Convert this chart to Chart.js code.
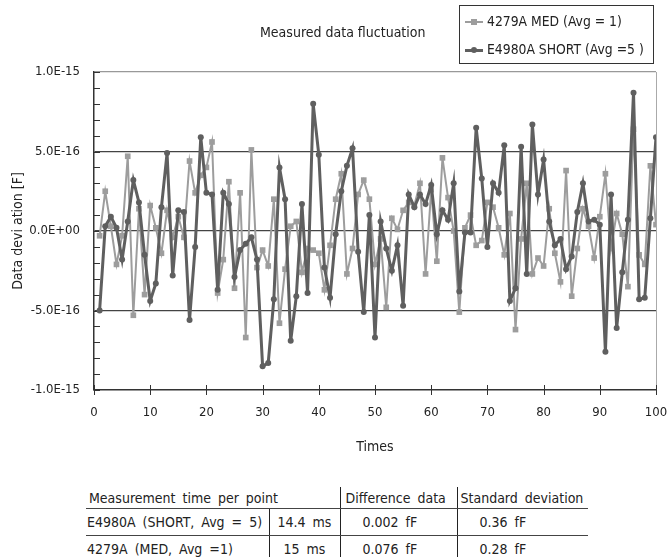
<!DOCTYPE html>
<html>
<head>
<meta charset="utf-8">
<script src="https://cdn.jsdelivr.net/npm/chart.js@4/dist/chart.umd.min.js"></script>
<style>
  body { margin: 0; background: #fff; }
  #wrap { position: relative; width: 670px; height: 557px; overflow: hidden;
          font-family: "DejaVu Sans Condensed", "DejaVu Sans", sans-serif; color: #222; }
  #myChart { position: absolute; left: 0; top: 0; }
  .chart-title { position: absolute; left: 260px; top: 24px; font-size: 14px; white-space: nowrap; }
  .legend { position: absolute; left: 459px; top: 5px; width: 193px; height: 57px; border: 1px solid #333; }
  .legend .row { position: absolute; left: 0; height: 20px; width: 100%; }
  .legend .line { position: absolute; left: 5px; width: 18px; top: 9px; }
  .legend .mark { position: absolute; }
  .legend .txt { position: absolute; left: 27px; top: 1px; font-size: 13.8px; white-space: nowrap; }
  table.info { position: absolute; left: 86px; top: 487px; border-collapse: collapse; table-layout: fixed;
               width: 502px; font-size: 14px; word-spacing: 3px; }
  table.info td { padding: 0; white-space: nowrap; overflow: hidden; }
  table.info tr.head td { height: 21px; border-bottom: 1px solid #444; }
  table.info tr.r1 td { height: 26px; border-bottom: 1px solid #444; }
  table.info tr.r2 td { height: 26px; }
  .c1 { padding-left: 1px !important; }
  .c2 { text-align: center; border-left: 1px solid #222; }
  .c3 { border-left: 1px solid #222; padding-left: 22px !important; }
  .c4 { border-left: 1px solid #222; padding-left: 22px !important; }
  .hd1 { padding-left: 3px !important; }
  .hd3 { padding-left: 5px !important; }
  .hd4 { padding-left: 3px !important; }
</style>
</head>
<body>
<div id="wrap">
  <canvas id="myChart" width="670" height="462"></canvas>
  <div class="chart-title">Measured data fluctuation</div>
  <div class="legend">
    <div class="row" style="top:6px">
      <div class="line" style="height:2px;background:#9d9d9d"></div>
      <div class="mark" style="left:11px;top:7px;width:6px;height:6px;background:#9d9d9d"></div>
      <div class="txt">4279A MED (Avg = 1)</div>
    </div>
    <div class="row" style="top:34px">
      <div class="line" style="height:3px;background:#5f5f5f"></div>
      <div class="mark" style="left:11px;top:7px;width:6px;height:6px;border-radius:50%;background:#5f5f5f"></div>
      <div class="txt">E4980A SHORT (Avg =5 )</div>
    </div>
  </div>
  <table class="info">
    <colgroup>
      <col style="width:183px"><col style="width:71px"><col style="width:117px"><col style="width:131px">
    </colgroup>
    <tr class="head">
      <td class="hd1" colspan="2">Measurement time per point</td>
      <td class="c3 hd3">Difference data</td>
      <td class="c4 hd4">Standard deviation</td>
    </tr>
    <tr class="r1">
      <td class="c1">E4980A (SHORT, Avg = 5)</td>
      <td class="c2">14.4 ms</td>
      <td class="c3">0.002 fF</td>
      <td class="c4">0.36 fF</td>
    </tr>
    <tr class="r2">
      <td class="c1">4279A (MED, Avg =1)</td>
      <td class="c2">15 ms</td>
      <td class="c3">0.076 fF</td>
      <td class="c4">0.28 fF</td>
    </tr>
  </table>
</div>
<script>
// measurement index (Times)
var times = [1, 2, 3, 4, 5, 6, 7, 8, 9, 10, 11, 12, 13, 14, 15, 16, 17, 18, 19, 20,
  21, 22, 23, 24, 25, 26, 27, 28, 29, 30, 31, 32, 33, 34, 35, 36, 37, 38, 39, 40,
  41, 42, 43, 44, 45, 46, 47, 48, 49, 50, 51, 52, 53, 54, 55, 56, 57, 58, 59, 60,
  61, 62, 63, 64, 65, 66, 67, 68, 69, 70, 71, 72, 73, 74, 75, 76, 77, 78, 79, 80,
  81, 82, 83, 84, 85, 86, 87, 88, 89, 90, 91, 92, 93, 94, 95, 96, 97, 98, 99, 100];

// data deviation, in units of 1E-16 F
var medAvg1 = [-0.3, 2.5, 0.3, -2.1, -0.3, 4.7, -5.3, 1.4, -4.0, 1.6,
  0.2, -1.4, 1.3, -0.4, 0.9, -0.4, 4.4, 2.4, 3.5, 4.0,
  5.6, -3.9, -1.8, 3.1, -3.6, 2.4, -6.7, 5.1, -2.3, -1.2,
  -2.2, 2.0, -5.8, -2.4, 0.3, 0.6, -2.6, -1.1, -1.2, -1.4,
  -3.7, -0.9, 2.0, 3.6, -2.7, -1.1, 2.3, 3.2, 2.0, -2.1,
  -0.5, -4.8, 0.8, 0.1, 1.3, 1.8, 1.6, 3.0, -2.7, 2.6,
  -1.9, 4.6, 2.1, 0.0, -5.1, 0.2, 1.0, -0.9, -0.6, 1.8,
  1.5, 0.2, -1.5, 1.1, -6.2, -0.5, 3.0, -2.7, -1.7, -2.2,
  1.4, -1.4, -3.2, 3.8, -4.1, -1.1, 1.4, 0.3, -1.7, 0.9,
  3.6, -1.1, 1.1, -0.2, -3.5, 6.4, -1.5, -2.1, 4.1, 0.4];

var shortAvg5 = [-5.0, 0.3, 0.9, 0.2, -1.8, 0.6, 3.2, 1.8, -1.5, -4.4,
  -3.3, 1.5, 4.9, -2.8, 1.3, 1.2, -5.6, -1.0, 5.9, 2.4,
  2.3, -3.7, 2.4, 1.7, -2.9, -1.2, -0.8, -0.4, -1.8, -8.5,
  -8.3, -4.3, 4.0, 2.0, -6.9, -4.1, 1.7, -3.9, 8.0, 4.8,
  -2.3, -4.2, -0.2, 2.5, 4.1, 5.2, -1.3, -5.1, 1.0, -6.7,
  0.6, -1.1, -2.5, -0.9, -4.7, 2.3, 1.5, 2.3, 1.7, 2.9,
  -0.2, 1.3, 0.7, 3.0, -3.8, -0.1, -0.1, 6.5, 3.3, -1.0,
  3.0, 2.4, 5.4, -4.4, -3.6, 5.3, -2.7, 6.7, 2.3, 4.5,
  0.6, -0.9, -0.5, -2.4, -1.6, 1.2, 3.0, 0.6, 0.7, 0.4,
  -7.6, 2.3, -6.1, -2.6, 0.7, 8.7, -4.3, -4.2, 0.8, 5.9];

var yMajor = [-10, -5, 0, 5, 10];

function sciLabel(v) {
  var parts = (v * 1e-16).toExponential(1).split('e');
  var exp = parts[1];
  return parts[0] + 'E' + exp[0] + exp.slice(1).padStart(2, '0');
}

function toPoints(values) {
  return times.map(function (t, i) { return { x: t, y: values[i] }; });
}

var tickMarks = {
  id: 'tickMarks',
  beforeDatasetsDraw: function (chart) {
    var ctx = chart.ctx, area = chart.chartArea, sx = chart.scales.x, sy = chart.scales.y;
    ctx.save();
    ctx.strokeStyle = '#333';
    ctx.lineWidth = 1;
    ctx.beginPath();
    sy.ticks.forEach(function (t) {
      var y = Math.round(sy.getPixelForValue(t.value)) + 0.5;
      ctx.moveTo(area.left, y);
      ctx.lineTo(area.left + 6, y);
    });
    sx.ticks.forEach(function (t) {
      var x = Math.round(sx.getPixelForValue(t.value)) + 0.5;
      ctx.moveTo(x, area.bottom - 5);
      ctx.lineTo(x, area.bottom + 5);
    });
    ctx.stroke();
    ctx.restore();
  }
};

var fam = "'DejaVu Sans Condensed', 'DejaVu Sans', sans-serif";
var tickFont = { family: fam, size: 13 };
var titleFont = { family: fam, size: 14 };

new Chart(document.getElementById('myChart'), {
  type: 'line',
  data: {
    datasets: [{
      label: 'E4980A SHORT (Avg =5 )',
      data: toPoints(shortAvg5),
      borderColor: '#5f5f5f',
      backgroundColor: '#5f5f5f',
      borderWidth: 3,
      pointStyle: 'circle',
      pointRadius: 3,
      pointBorderWidth: 0,
      order: 0
    }, {
      label: '4279A MED (Avg = 1)',
      data: toPoints(medAvg1),
      borderColor: '#9d9d9d',
      backgroundColor: '#9d9d9d',
      borderWidth: 2,
      pointStyle: 'rect',
      pointRadius: 4,
      pointBorderWidth: 0,
      order: 1
    }]
  },
  options: {
    responsive: false,
    animation: false,
    devicePixelRatio: 1,
    layout: { padding: { left: 0, right: 14, top: 72, bottom: 0 } },
    elements: { line: { tension: 0 } },
    plugins: { legend: { display: false }, tooltip: { enabled: false } },
    scales: {
      x: {
        type: 'linear',
        min: 0,
        max: 100,
        afterFit: function (scale) {
          scale.height = 72;
          scale.paddingLeft = 0;
          scale.paddingRight = 0;
        },
        ticks: { stepSize: 10, font: tickFont, color: '#222', padding: 15, maxRotation: 0 },
        grid: {
          drawTicks: false,
          lineWidth: 1,
          color: function (c) { return c.tick && c.tick.value === 100 ? '#aaa' : 'transparent'; }
        },
        border: { color: '#333', width: 1.5 },
        title: { display: true, text: 'Times', font: titleFont, color: '#222', padding: { top: 4, bottom: 6 } }
      },
      y: {
        min: -10,
        max: 10,
        afterFit: function (scale) { scale.width = 94; },
        ticks: {
          stepSize: 1,
          autoSkip: false,
          font: tickFont,
          color: '#222',
          padding: 14,
          callback: function (v) { return yMajor.indexOf(v) >= 0 ? sciLabel(v) : ''; }
        },
        grid: {
          drawTicks: false,
          lineWidth: 1.3,
          color: function (c) {
            var v = c.tick ? c.tick.value : null;
            if (v === 10) return '#999';
            if (v === 5 || v === 0 || v === -5) return '#444';
            return 'transparent';
          }
        },
        border: { color: '#333', width: 1.5 },
        title: { display: true, text: 'Data devi ation [F]', font: titleFont, color: '#222', padding: { top: 10, bottom: 4 } }
      }
    }
  },
  plugins: [tickMarks]
});
</script>
</body>
</html>
